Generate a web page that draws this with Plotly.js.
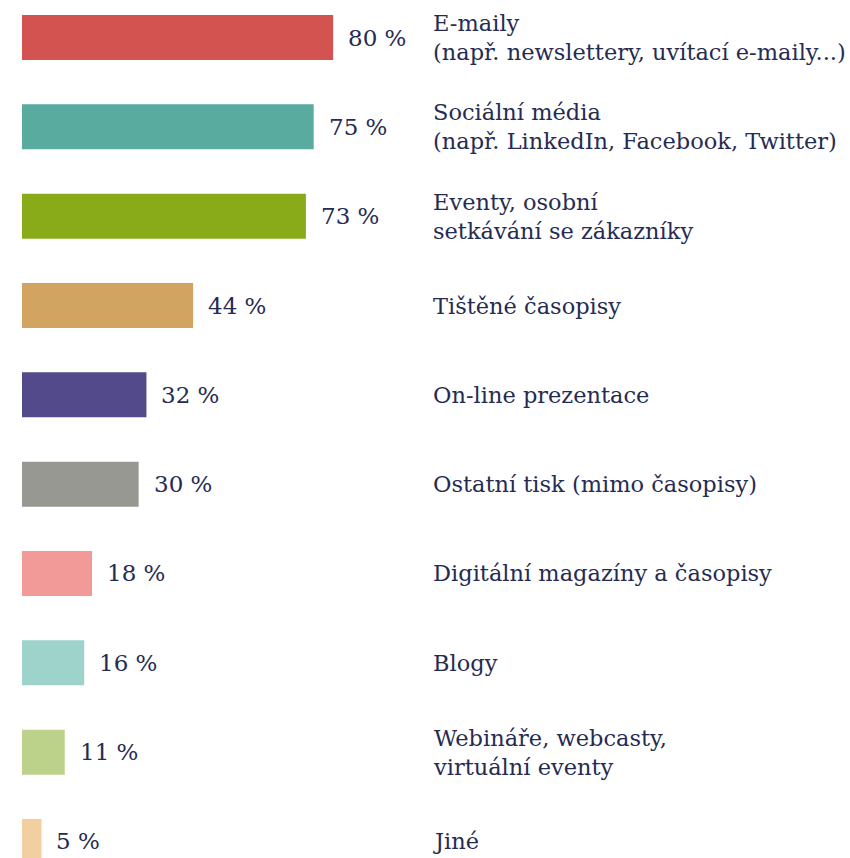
<!DOCTYPE html>
<html>
<head>
<meta charset="utf-8">
<script src="https://cdn.plot.ly/plotly-3.0.1.min.js"></script>
<style>html,body{margin:0;padding:0;background:#fff;}#chart{width:850px;height:858px;}</style>
</head>
<body>
<div id="chart"></div>
<script>
const categories = [
  "E-maily<br>(např. newslettery, uvítací e-maily...)",
  "Sociální média<br>(např. LinkedIn, Facebook, Twitter)",
  "Eventy, osobní<br>setkávání se zákazníky",
  "Tištěné časopisy",
  "On-line prezentace",
  "Ostatní tisk (mimo časopisy)",
  "Digitální magazíny a časopisy",
  "Blogy",
  "Webináře, webcasty,<br>virtuální eventy",
  "Jiné"
];
const values = [80, 75, 73, 44, 32, 30, 18, 16, 11, 5];
const colors = ["#d2534f", "#5aab9f", "#8aab19", "#d1a461", "#524a8a", "#989892", "#f19a97", "#9dd3cb", "#bcd28a", "#f2cfa0"];

const textColor = "#262b52";
const fontFam = "DejaVu Serif, serif";
const idx = categories.map((c, i) => i);

const trace = {
  type: "bar",
  orientation: "h",
  y: idx,
  x: values,
  marker: { color: colors },
  hoverinfo: "skip"
};

const annotations = [];
categories.forEach((c, i) => {
  annotations.push({
    xref: "paper", yref: "y", x: 0.494, y: i,
    xanchor: "left", yanchor: "middle", align: "left",
    text: c, showarrow: false,
    font: { family: fontFam, size: 22.5, color: textColor }
  });
  annotations.push({
    xref: "x", yref: "y", x: values[i], y: i,
    xanchor: "left", yanchor: "middle", xshift: 13,
    text: values[i] + " %", showarrow: false,
    font: { family: fontFam, size: 23, color: textColor }
  });
});

const layout = {
  width: 850, height: 858,
  margin: { l: 22, r: 0, t: 0, b: 0 },
  paper_bgcolor: "#fff", plot_bgcolor: "#fff",
  showlegend: false,
  bargap: 0.496,
  xaxis: { range: [0, 212.9], visible: false, fixedrange: true },
  yaxis: { range: [9.185, -0.42], visible: false, fixedrange: true },
  annotations: annotations
};

Plotly.newPlot("chart", [trace], layout, { displayModeBar: false, staticPlot: true });
</script>
</body>
</html>
